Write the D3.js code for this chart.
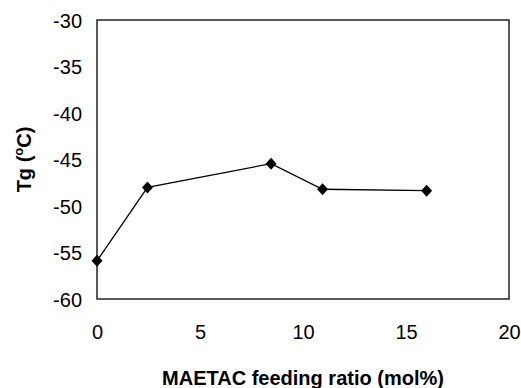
<!DOCTYPE html>
<html>
<head>
<meta charset="utf-8">
<script src="https://cdn.jsdelivr.net/npm/d3@7"></script>
<style>
  body { margin: 0; background: #fff; }
  text { font-family: "Liberation Sans", Arial, sans-serif; fill: #000; }
</style>
</head>
<body>
<div class="chart"></div>
<script>
// MAETAC feeding ratio vs Tg
let feedRatio = [0, 2.45, 8.45, 10.95, 16.0];
let tgValues = [-55.9, -48.0, -45.45, -48.2, -48.35];
let xTicks = [0, 5, 10, 15, 20];
let yTicks = [-30, -35, -40, -45, -50, -55, -60];

let svgWidth = 521;
let svgHeight = 388;

let margin = { top: 20, right: 12, bottom: 89, left: 97 };
let width = svgWidth - margin.left - margin.right;
let height = svgHeight - margin.top - margin.bottom;

let svg = d3.select(".chart")
  .append("svg")
  .attr("width", svgWidth)
  .attr("height", svgHeight);

let chartGroup = svg.append("g")
  .attr("transform", `translate(${margin.left}, ${margin.top})`);

let xScale = d3.scaleLinear().domain([0, 20]).range([0, width]);
let yScale = d3.scaleLinear().domain([-60, -30]).range([height, 0]);

// frame
chartGroup.append("rect")
  .attr("width", width)
  .attr("height", height)
  .attr("fill", "none")
  .attr("stroke", "#222")
  .attr("stroke-width", 1.5);

// plain hyphen for negatives, like the original
let fmt = d => String(d);

// x axis labels
let xAxis = chartGroup.append("g")
  .attr("transform", `translate(0, ${height})`)
  .call(d3.axisBottom(xScale).tickValues(xTicks).tickFormat(fmt).tickSize(0).tickPadding(26));
xAxis.select(".domain").remove();
xAxis.selectAll("text")
  .attr("font-size", "20px")
  .attr("font-family", null);

// y axis labels
let yAxis = chartGroup.append("g")
  .call(d3.axisLeft(yScale).tickValues(yTicks).tickFormat(fmt).tickSize(0).tickPadding(15));
yAxis.select(".domain").remove();
yAxis.selectAll("text")
  .attr("font-size", "20px")
  .attr("font-family", null)
  .attr("dy", "0.35em");

// line
let line = d3.line()
  .x((d, i) => xScale(feedRatio[i]))
  .y(d => yScale(d));

chartGroup.append("path")
  .datum(tgValues)
  .attr("d", line)
  .attr("fill", "none")
  .attr("stroke", "#000")
  .attr("stroke-width", 1.3);

// diamond markers
chartGroup.selectAll(".pt")
  .data(tgValues)
  .enter()
  .append("path")
  .attr("class", "pt")
  .attr("transform", (d, i) => `translate(${xScale(feedRatio[i])}, ${yScale(d)})`)
  .attr("d", "M0,-6L5.5,0L0,6L-5.5,0Z")
  .attr("fill", "#000");

// x title
svg.append("text")
  .attr("x", margin.left + width / 2)
  .attr("y", 385)
  .attr("text-anchor", "middle")
  .attr("font-size", "20px")
  .attr("font-weight", "bold")
  .text("MAETAC feeding ratio (mol%)");

// y title
let yTitle = svg.append("text")
  .attr("transform", `translate(31, ${margin.top + height / 2}) rotate(-90)`)
  .attr("text-anchor", "middle")
  .attr("font-size", "20px")
  .attr("font-weight", "bold");
yTitle.append("tspan").text("Tg (");
yTitle.append("tspan").attr("font-size", "13px").attr("dy", "-8").text("o");
yTitle.append("tspan").attr("dy", "8").text("C)");
</script>
</body>
</html>
